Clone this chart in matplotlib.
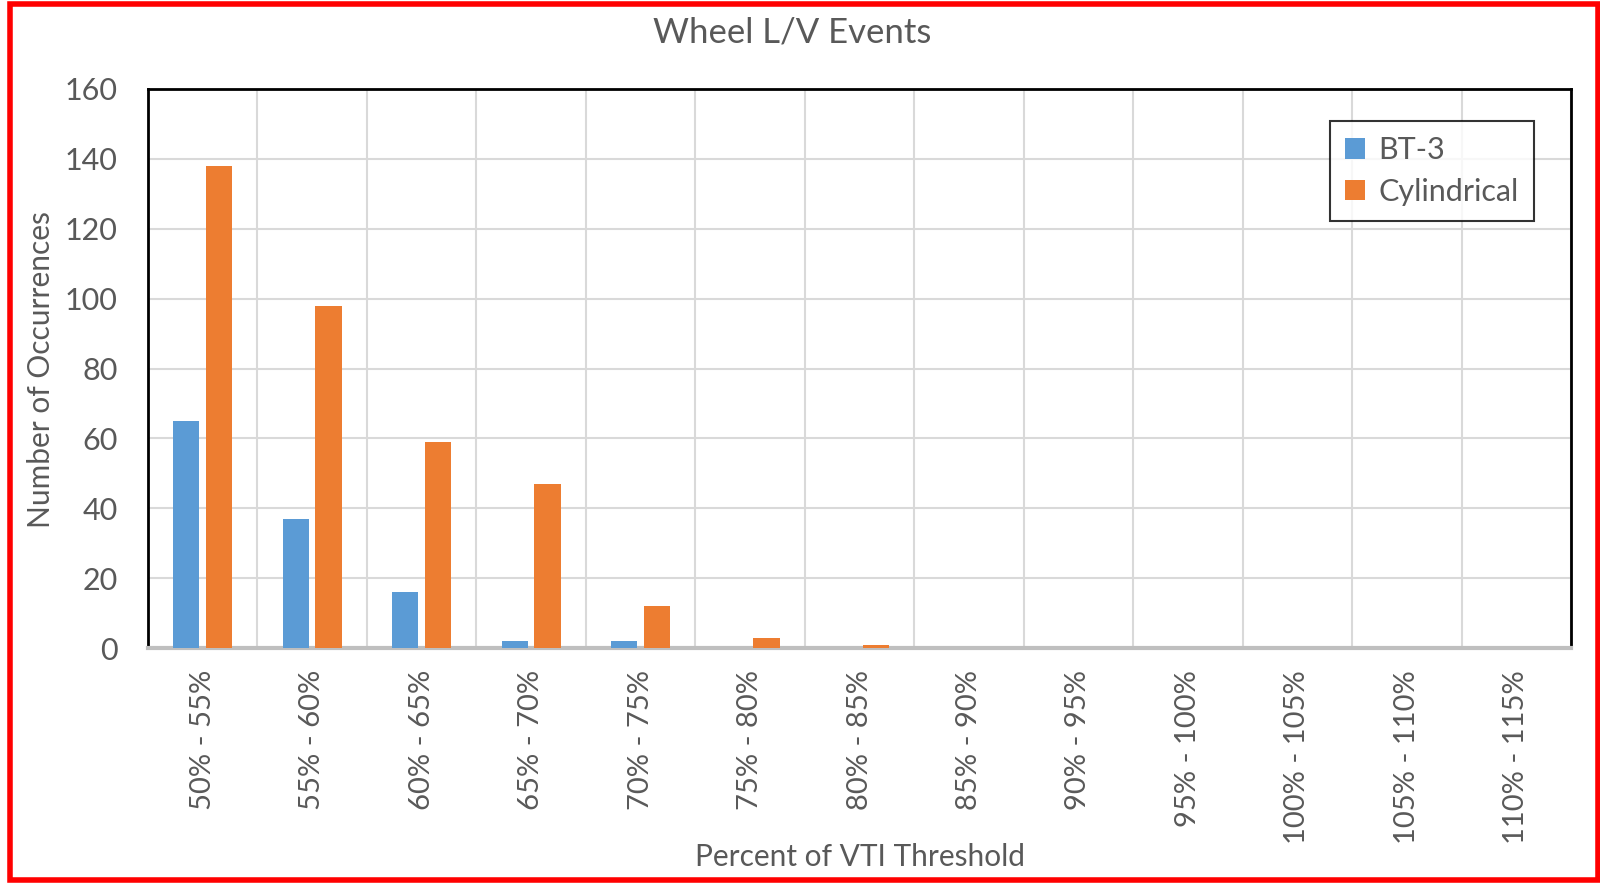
import numpy as np
import matplotlib
matplotlib.use("Agg")
from matplotlib import pyplot as plt
from matplotlib.patches import Rectangle

# datos
categorias = ["50% - 55%", "55% - 60%", "60% - 65%", "65% - 70%", "70% - 75%",
              "75% - 80%", "80% - 85%", "85% - 90%", "90% - 95%", "95% - 100%",
              "100% - 105%", "105% - 110%", "110% - 115%"]
bt3 = [65, 37, 16, 2, 2, 0, 0, 0, 0, 0, 0, 0, 0]
cilindrico = [138, 98, 59, 47, 12, 3, 1, 0, 0, 0, 0, 0, 0]

azul = "#5b9bd5"
naranja = "#ed7d31"
gris_texto = "#595959"

plt.rcParams['font.family'] = ['Lato', 'DejaVu Sans']

fig = plt.figure(figsize=(16, 8.83), dpi=100)
ax = fig.add_axes([148/1600, 1 - 648/883, (1571-148)/1600, (648-89)/883])

x = np.arange(len(categorias))
ax.bar(x - 0.15, bt3, width=0.24, color=azul, label="BT-3", zorder=3)
ax.bar(x + 0.15, cilindrico, width=0.24, color=naranja, label="Cylindrical", zorder=3)

ax.set_xlim(-0.5, len(categorias) - 0.5)
ax.set_ylim(0, 160)
ax.set_yticks(range(0, 161, 20))
ax.set_xticks(x)
ax.set_xticklabels(categorias, rotation=90, fontsize=21, color=gris_texto)
ax.tick_params(axis='y', labelsize=22, labelcolor=gris_texto, length=0, pad=22)
ax.tick_params(axis='x', length=0, pad=16)

# rejilla estilo excel
ax.set_xticks(np.arange(-0.5, len(categorias), 1), minor=True)
ax.tick_params(axis='x', which='minor', length=0)
ax.grid(axis='x', which='minor', color="#d9d9d9", linewidth=1.5, zorder=0)
ax.grid(axis='y', which='major', color="#d9d9d9", linewidth=1.5, zorder=0)

for lado in ['top', 'left', 'right']:
    ax.spines[lado].set_color('black')
    ax.spines[lado].set_linewidth(2)
ax.spines['bottom'].set_color('#bfbfbf')
ax.spines['bottom'].set_linewidth(3)

fig.text(41/1600, 1 - 370/883, "Number of Occurrences", rotation=90,
         ha='center', va='center', fontsize=21.5, color=gris_texto)
fig.text(860/1600, 1 - 857/883, "Percent of VTI Threshold",
         ha='center', va='center', fontsize=21.5, color=gris_texto)
fig.text(0.495, 1 - 32/883, "Wheel L/V Events", ha='center', va='center',
         fontsize=25, color=gris_texto)

leg = ax.legend(loc='upper right', bbox_to_anchor=(1534/1600, 1 - 121/883),
                bbox_transform=fig.transFigure, fontsize=22, frameon=True,
                fancybox=False, handlelength=0.65, handleheight=0.65,
                handletextpad=0.45, labelspacing=0.45, borderpad=0.5,
                borderaxespad=0, labelcolor=gris_texto)
leg.get_frame().set_edgecolor('black')
leg.get_frame().set_linewidth(1.5)

# marco rojo
fig.patches.append(Rectangle((10/1600, 3/883), 1 - 12/1600, 1 - 7/883,
                             transform=fig.transFigure, fill=False,
                             edgecolor='red', linewidth=4))

plt.savefig("out.png", dpi=100)
